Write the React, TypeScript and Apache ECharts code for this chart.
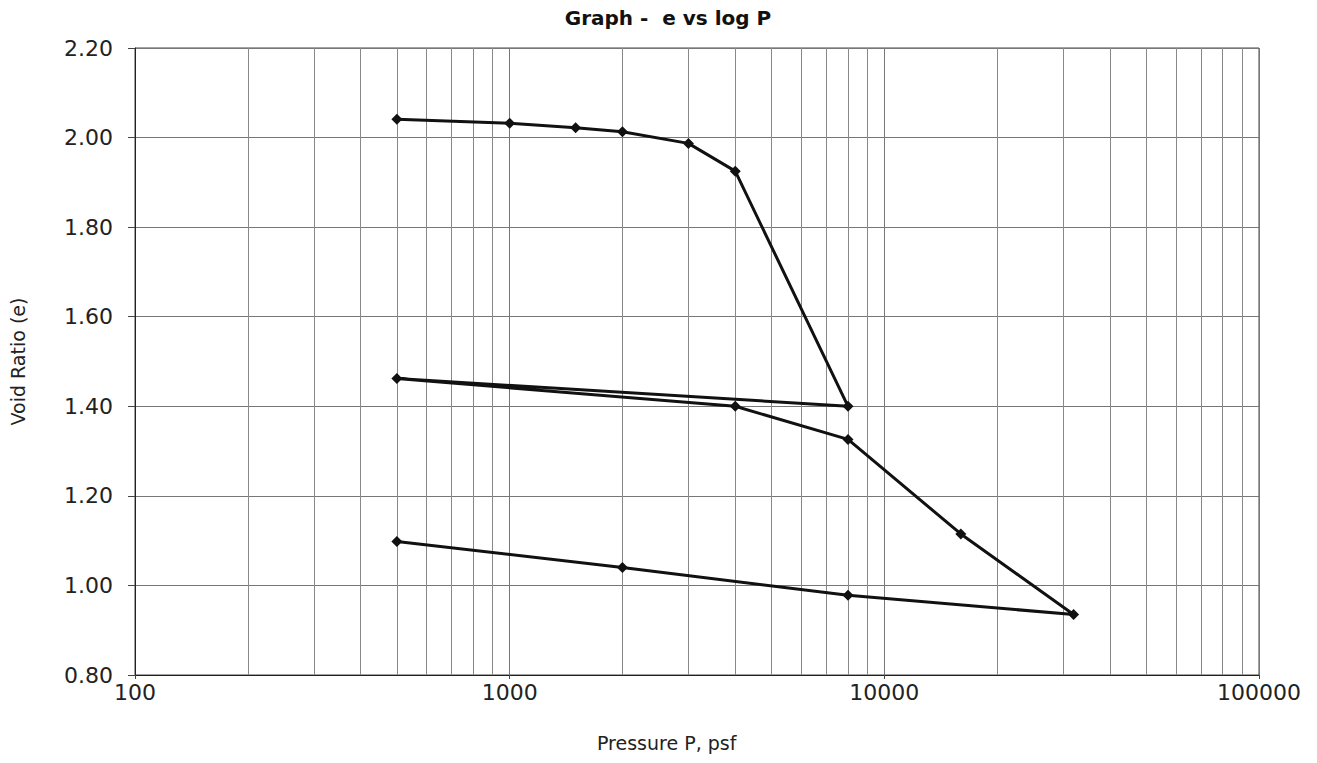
import React, { useEffect, useRef } from "react";
import * as echarts from "echarts";

const pressure = [500, 1000, 1500, 2000, 3000, 4000, 8000, 500, 4000, 8000, 16000, 32000, 8000, 2000, 500];
const voidRatio = [2.041, 2.032, 2.022, 2.013, 1.987, 1.925, 1.4, 1.462, 1.4, 1.326, 1.115, 0.935, 0.978, 1.04, 1.098];
const minorGrid = [200, 300, 400, 500, 600, 700, 800, 900, 2000, 3000, 4000, 5000, 6000, 7000, 8000, 9000, 20000, 30000, 40000, 50000, 60000, 70000, 80000, 90000];

const FONT = "DejaVu Sans";

export default function App() {
  const ref = useRef<HTMLDivElement>(null);
  useEffect(() => {
    document.body.style.margin = "0";
    const chart = echarts.init(ref.current!, null, { renderer: "svg" });
    const data = pressure.map((p, i) => [p, voidRatio[i]]);
    chart.setOption({
      animation: false,
      backgroundColor: "#ffffff",
      title: {
        text: "Graph -  e vs log P",
        left: 663,
        top: 3,
        textAlign: "center",
        textStyle: { fontFamily: FONT, fontWeight: "bold", fontSize: 20, color: "#111" },
      },
      graphic: [
        {
          type: "text",
          left: 597,
          top: 733,
          style: { text: "Pressure P, psf", fontFamily: FONT, fontSize: 19, fill: "#222" },
        },
      ],
      grid: { left: 135, right: 58, top: 48, bottom: 88, show: true, borderColor: "#444", borderWidth: 1 },
      xAxis: {
        type: "log",
        logBase: 10,
        min: 100,
        max: 100000,
        splitNumber: 3,
        axisLine: { lineStyle: { color: "#222", width: 1 } },
        axisTick: { show: true, length: 4, lineStyle: { color: "#444" } },
        axisLabel: {
          fontFamily: FONT,
          fontSize: 22,
          color: "#222",
          margin: 6,
          formatter: (v: number) => String(Math.round(v)),
        },
        splitLine: { show: true, lineStyle: { color: "#777", width: 1 } },
      },
      yAxis: {
        type: "value",
        min: 0.8,
        max: 2.2,
        interval: 0.2,
        name: "Void Ratio (e)",
        nameLocation: "middle",
        nameGap: 108,
        nameTextStyle: { fontFamily: FONT, fontSize: 19, color: "#222" },
        axisLine: { show: true, lineStyle: { color: "#222", width: 1 } },
        axisTick: { show: true, length: 7, lineStyle: { color: "#444" } },
        axisLabel: {
          fontFamily: FONT,
          fontSize: 22,
          color: "#222",
          margin: 22,
          formatter: (v: number) => v.toFixed(2),
        },
        splitLine: { show: true, lineStyle: { color: "#777", width: 1 } },
      },
      series: [
        {
          type: "line",
          data,
          symbol: "diamond",
          symbolSize: 11,
          itemStyle: { color: "#111" },
          lineStyle: { color: "#111", width: 3 },
          markLine: {
            silent: true,
            symbol: "none",
            label: { show: false },
            lineStyle: { color: "#888", width: 1, type: "solid" },
            data: minorGrid.map((v) => ({ xAxis: v })),
            z: 1,
          },
          z: 3,
        },
      ],
    });
    return () => chart.dispose();
  }, []);
  return <div ref={ref} style={{ width: 1317, height: 763 }} />;
}
